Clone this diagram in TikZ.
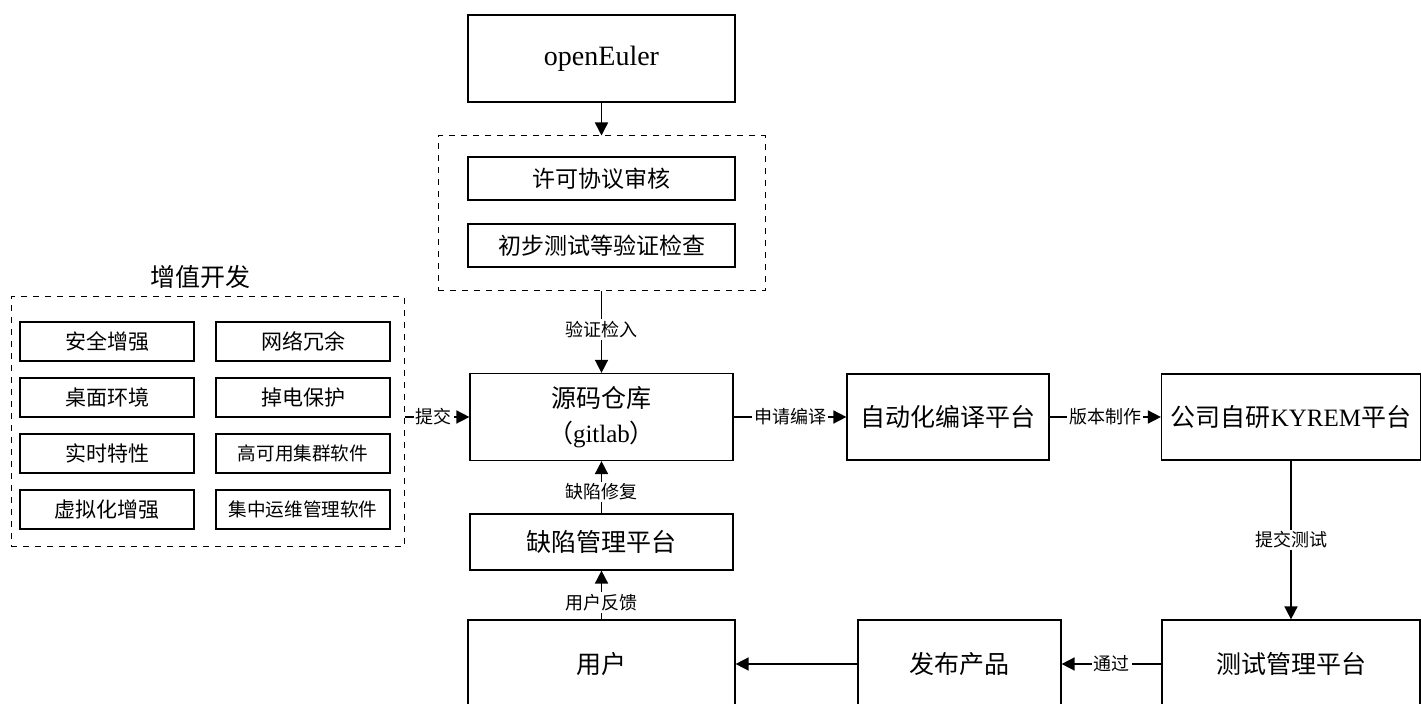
\documentclass[tikz,border=0pt]{standalone}
\usepackage{fontspec}
\setmainfont{Liberation Serif}
\newfontfamily\cjk{Noto Sans CJK SC}
\usetikzlibrary{arrows.meta,positioning}
\tikzset{
    box/.style={
        rectangle,
        draw,
        line width=0.6pt,
        inner sep=0pt,
        align=center,
        font=\cjk\fontsize{12.5}{17.5}\selectfont
    },
    smallbox/.style={
        box,
        minimum width=87pt,
        minimum height=19.5pt,
        font=\cjk\fontsize{10.5}{12}\selectfont
    },
    group/.style={rectangle, draw, dashed, line width=0.5pt, inner sep=0pt},
    arrow/.style={-{Triangle[length=6.5pt,width=6.5pt]}, line width=0.8pt},
    lbl/.style={fill=white, inner sep=1pt, font=\cjk\fontsize{9}{10}\selectfont}
}

\begin{document}
\begin{tikzpicture}[x=0.5pt,y=-0.5pt]
    \useasboundingbox (0,0) rectangle (1421,704);

    % upstream and checks
    \node[box, minimum width=133.5pt, minimum height=43.5pt, font=\fontsize{14}{16}\selectfont] (oe) at (601.5,58.5) {openEuler};
    \node[group, minimum width=163.5pt, minimum height=77.5pt] (chk) at (601.5,213.5) {};
    \node[box, minimum width=133.5pt, minimum height=21.5pt, font=\cjk\fontsize{11.5}{13}\selectfont] (lic) at (601.5,178.5) {许可协议审核};
    \node[box, minimum width=133.5pt, minimum height=21.5pt, font=\cjk\fontsize{11.5}{13}\selectfont] (test1) at (601.5,245.5) {初步测试等验证检查};

    % main row
    \node[box, minimum width=131.5pt, minimum height=43.5pt] (repo) at (601.5,417) {源码仓库\\（{\rmfamily gitlab}）};
    \node[box, minimum width=101pt, minimum height=43pt] (build) at (948,417) {自动化编译平台};
    \node[box, minimum width=129.5pt, minimum height=43pt] (kyrem) at (1291,417) {公司自研{\rmfamily KYREM}平台};
    \node[box, minimum width=131.5pt, minimum height=28pt] (bug) at (601.5,542) {缺陷管理平台};

    % bottom row
    \node[box, minimum width=133.5pt, minimum height=44pt] (user) at (601.5,664) {用户};
    \node[box, minimum width=101.5pt, minimum height=44pt] (rel) at (959.5,664) {发布产品};
    \node[box, minimum width=129pt, minimum height=44pt] (test) at (1291,664) {测试管理平台};

    % value-added development
    \node[group, minimum width=196.5pt, minimum height=125pt] (dev) at (207.5,422) {};
    \node[font=\cjk\fontsize{12.5}{14}\selectfont] (devtitle) at (200,277) {增值开发};
    \foreach \t [count=\i] in {安全增强,桌面环境,实时特性,虚拟化增强}
        \node[smallbox] (l\i) at (107,{341.5+56*(\i-1)}) {\t};
    \foreach \t/\s [count=\i] in {网络冗余/10.5,掉电保护/10.5,高可用集群软件/9.3,集中运维管理软件/9.3}
        \node[smallbox, font=\cjk\fontsize{\s}{12}\selectfont] (r\i) at (303,{341.5+56*(\i-1)}) {\t};

    % connectors
    \draw[arrow] (oe) -- (chk);
    \draw[arrow] (chk) -- node[lbl, pos=0.47] {验证检入} (repo);
    \draw[arrow] (dev.east |- repo.west) -- node[lbl, pos=0.45] {提交} (repo.west);
    \draw[arrow] (repo) -- node[lbl] {申请编译} (build);
    \draw[arrow] (build) -- node[lbl] {版本制作} (kyrem);
    \draw[arrow] (kyrem) -- node[lbl] {提交测试} (test);
    \draw[arrow] (test) -- node[lbl] {通过} (rel);
    \draw[arrow] (rel) -- (user);
    \draw[arrow] (user) -- node[lbl, pos=0.34] {用户反馈} (bug);
    \draw[arrow] (bug) -- node[lbl, pos=0.41] {缺陷修复} (repo);

\end{tikzpicture}
\end{document}
